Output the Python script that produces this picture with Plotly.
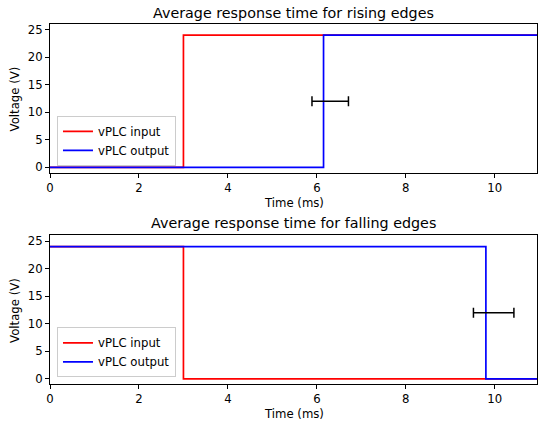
import plotly.graph_objects as go

# ---- data ----
rise_t_input = [0.0, 3.0, 11.5]
rise_v_input = [0, 24, 24]
rise_t_output = [0.0, 6.15, 11.5]
rise_v_output = [0, 24, 24]
rise_err_center = [6.30]
rise_err_level = [12]
rise_err_halfwidth = [0.41]

fall_t_input = [0.0, 3.0, 11.5]
fall_v_input = [24, 0, 0]
fall_t_output = [0.0, 9.80, 11.5]
fall_v_output = [24, 0, 0]
fall_err_center = [9.975]
fall_err_level = [12]
fall_err_halfwidth = [0.455]

x_ticks = [0, 2, 4, 6, 8, 10]
y_ticks = [0, 5, 10, 15, 20, 25]
titles = ["Average response time for rising edges", "Average response time for falling edges"]

W, H = 538, 427
L = 50
FONT = "DejaVu Sans"
FS = 11.7

def px(x):
    return (x - L) / (W - L)

def py(y):
    return 1 - y / H

fig = go.Figure()

RED = "#ff0000"
BLUE = "#0000ff"

# top subplot
fig.add_trace(go.Scatter(x=rise_t_input, y=rise_v_input, mode="lines", line_shape="hv",
                         line=dict(color=RED, width=1.7), name="vPLC input",
                         xaxis="x", yaxis="y", legend="legend"))
fig.add_trace(go.Scatter(x=rise_t_output, y=rise_v_output, mode="lines", line_shape="hv",
                         line=dict(color=BLUE, width=1.7), name="vPLC output",
                         xaxis="x", yaxis="y", legend="legend"))
fig.add_trace(go.Scatter(x=rise_err_center, y=rise_err_level, mode="markers",
                         marker=dict(size=1, color="rgba(0,0,0,0)"),
                         error_x=dict(type="data", array=rise_err_halfwidth, color="black",
                                      thickness=1.5, width=5),
                         showlegend=False, xaxis="x", yaxis="y"))

# bottom subplot
fig.add_trace(go.Scatter(x=fall_t_input, y=fall_v_input, mode="lines", line_shape="hv",
                         line=dict(color=RED, width=1.7), name="vPLC input",
                         xaxis="x2", yaxis="y2", legend="legend2"))
fig.add_trace(go.Scatter(x=fall_t_output, y=fall_v_output, mode="lines", line_shape="hv",
                         line=dict(color=BLUE, width=1.7), name="vPLC output",
                         xaxis="x2", yaxis="y2", legend="legend2"))
fig.add_trace(go.Scatter(x=fall_err_center, y=fall_err_level, mode="markers",
                         marker=dict(size=1, color="rgba(0,0,0,0)"),
                         error_x=dict(type="data", array=fall_err_halfwidth, color="black",
                                      thickness=1.5, width=5),
                         showlegend=False, xaxis="x2", yaxis="y2"))

xr = [0, (W - L) / 44.57]
yr = [-1.0, 26.05]

axis_common = dict(showline=True, linecolor="black", linewidth=1, mirror=True,
                   ticks="outside", ticklen=4, tickwidth=1, tickcolor="black",
                   showgrid=False, zeroline=False,
                   tickfont=dict(family=FONT, size=FS, color="black"))

legend_common = dict(xanchor="left", yanchor="bottom",
                     bgcolor="rgba(255,255,255,0.85)", bordercolor="#cccccc", borderwidth=1,
                     font=dict(family=FONT, size=FS, color="black"), tracegroupgap=0,
                     itemwidth=30)

fig.update_layout(
    width=W, height=H,
    margin=dict(l=L, r=0, t=0, b=0),
    paper_bgcolor="white", plot_bgcolor="white",
    font=dict(family=FONT, color="black"),
    xaxis=dict(domain=[0, 1], range=xr, tickvals=x_ticks, anchor="y", **axis_common),
    yaxis=dict(domain=[py(173), py(23)], range=yr, tickvals=y_ticks, anchor="x", **axis_common),
    xaxis2=dict(domain=[0, 1], range=xr, tickvals=x_ticks, anchor="y2", **axis_common),
    yaxis2=dict(domain=[py(386), py(236)], range=yr, tickvals=y_ticks, anchor="x2", **axis_common),
    legend=dict(x=px(57), y=py(166), **legend_common),
    legend2=dict(x=px(57), y=py(379), **legend_common),
    showlegend=True,
)

annos = []
for title, ty in zip(titles, [12, 224]):
    annos.append(dict(text=title, x=px(294), y=py(ty), xref="paper", yref="paper",
                      xanchor="center", yanchor="middle", showarrow=False,
                      font=dict(family=FONT, size=14.3, color="black")))
for ty in [203, 416]:
    annos.append(dict(text="Time (ms)", x=px(294), y=py(ty), xref="paper", yref="paper",
                      xanchor="center", yanchor="middle", showarrow=False,
                      font=dict(family=FONT, size=FS, color="black")))
for ty in [99, 312]:
    annos.append(dict(text="Voltage (V)", x=px(15), y=py(ty), xref="paper", yref="paper",
                      xanchor="center", yanchor="middle", showarrow=False, textangle=-90,
                      font=dict(family=FONT, size=FS, color="black")))
fig.update_layout(annotations=annos)

fig.write_html("out.html")
